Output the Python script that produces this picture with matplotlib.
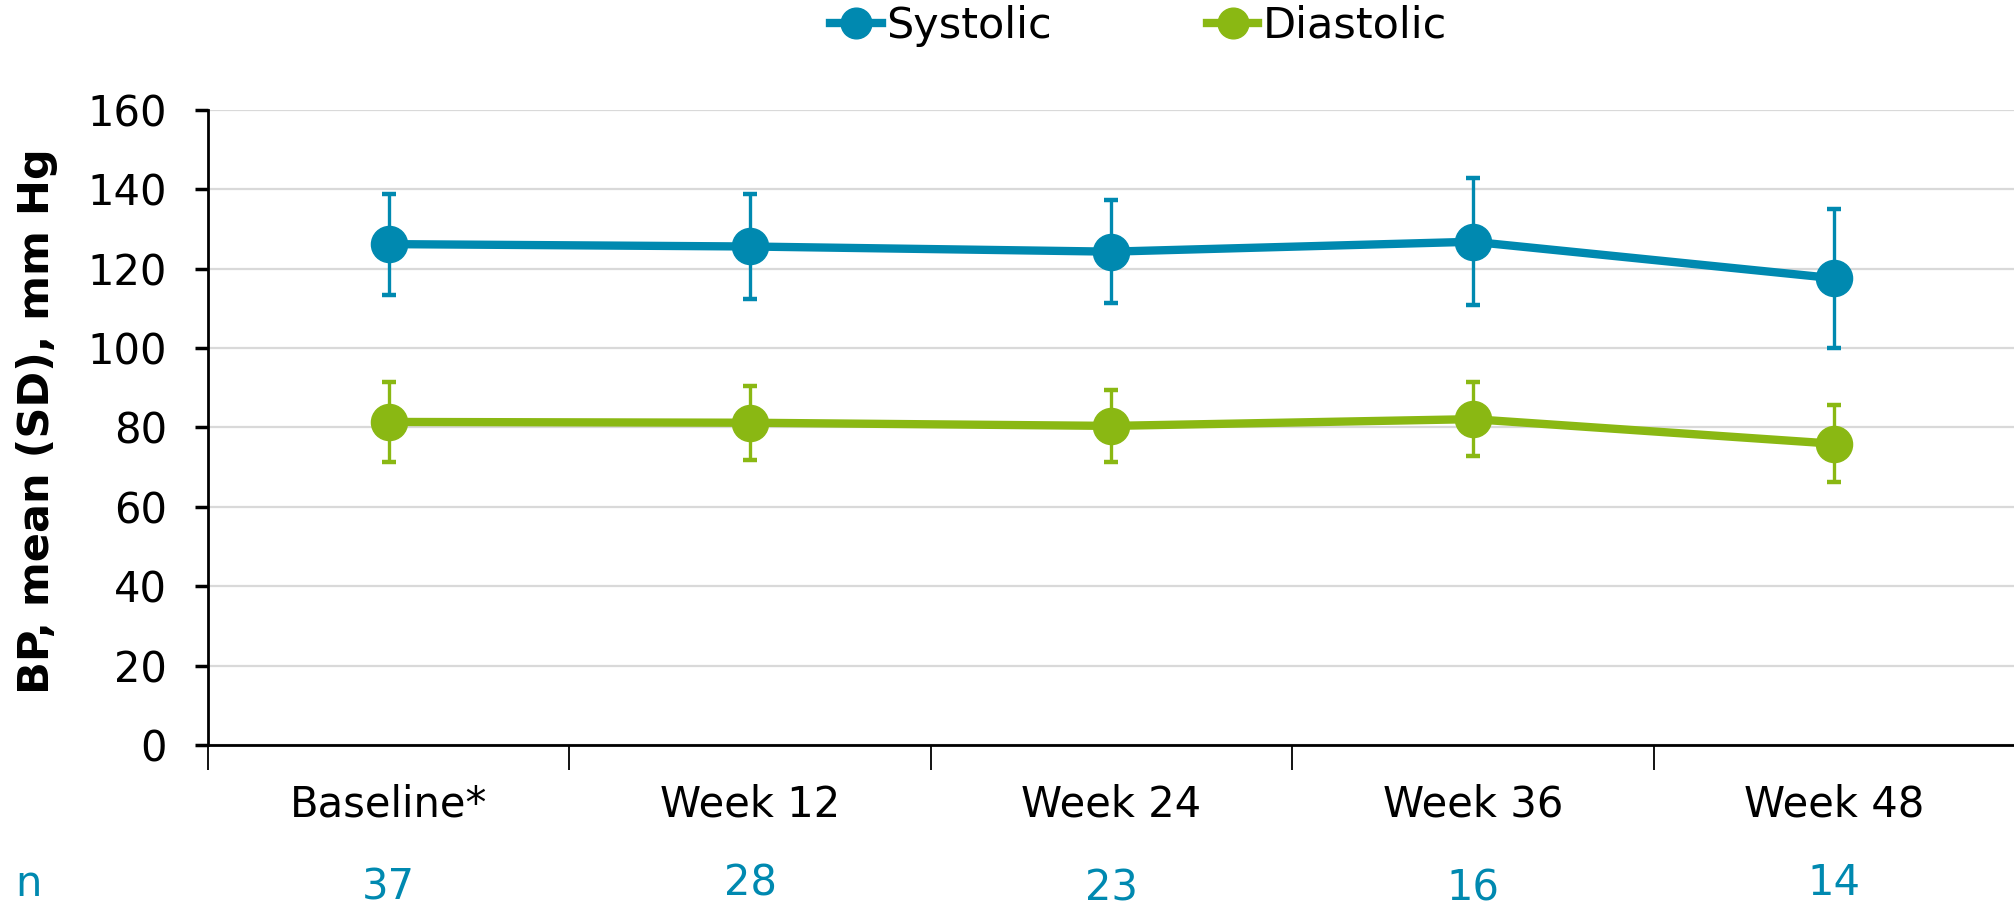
import matplotlib.pyplot as plt
import numpy as np

plt.rcParams.update(
    {
        "font.family": ["DejaVu Sans"],
        "font.size": 30,
        "axes.linewidth": 2,
    }
)

# 数据
visits = ["Baseline*", "Week 12", "Week 24", "Week 36", "Week 48"]
n_patients = [37, 28, 23, 16, 14]
systolic_mean = [126.2, 125.6, 124.3, 126.8, 117.6]
systolic_sd = [12.7, 13.2, 13.0, 16.0, 17.5]
diastolic_mean = [81.4, 81.2, 80.4, 82.1, 75.9]
diastolic_sd = [10.0, 9.3, 9.0, 9.3, 9.7]

C_SYS = "#0089B0"
C_DIA = "#8AB813"

fig = plt.figure(figsize=(20.15, 9.08), dpi=100)
ax = fig.add_axes([0.1032, 0.1795, 0.8968, 0.6994])

x = np.arange(len(visits))

for mean, sd, color, label in [
    (systolic_mean, systolic_sd, C_SYS, "Systolic"),
    (diastolic_mean, diastolic_sd, C_DIA, "Diastolic"),
]:
    ax.errorbar(
        x, mean, yerr=sd, fmt="none", ecolor=color,
        elinewidth=2.4, capsize=5, capthick=3.2, zorder=3,
    )
    ax.plot(
        x, mean, color=color, linewidth=6, marker="o",
        markersize=26, label=label, zorder=4,
    )

ax.set_xlim(-0.5, len(visits) - 0.5)
ax.set_ylim(0, 160)
ax.set_yticks(np.arange(0, 161, 20))
ax.grid(axis="y", color="#D9D9D9", linewidth=1.6, zorder=0)
ax.set_axisbelow(True)

# 类别标签居中，刻度线放在类别之间
ax.set_xticks(x)
ax.set_xticklabels(visits)
ax.tick_params(axis="x", which="major", length=0, pad=28)
ax.set_xticks(np.arange(-0.5, len(visits) - 1), minor=True)
ax.tick_params(axis="x", which="minor", length=18, width=1.3, direction="out")
ax.tick_params(axis="y", length=9.5, width=2.5, pad=20)

for s in ["top", "right"]:
    ax.spines[s].set_visible(False)

ax.set_ylabel("BP, mean (SD), mm Hg", fontweight="bold", fontsize=31)
ax.yaxis.set_label_coords(-0.083, 0.51)

# 每个时间点的病例数
n_offsets = [0, 4, -1, -1, 4]
fig.text(28 / 2015, 1 - 884 / 908, "n", color=C_SYS, fontsize=30,
         ha="center", va="center")
for xi, n, off in zip(x, n_patients, n_offsets):
    ax.annotate(str(n), xy=(xi, 0), xycoords=("data", "axes fraction"),
                xytext=(0, -(887 - 745) + off), textcoords="offset pixels",
                ha="center", va="center", color=C_SYS, fontsize=30)

fig.legend(
    loc="center", bbox_to_anchor=(886 / 1568, 1 - 26 / 908), ncol=2, frameon=False,
    handlelength=1.2, handletextpad=0.1, columnspacing=3.6,
    markerscale=0.85, fontsize=31,
)

fig.savefig("out.png", dpi=100)
